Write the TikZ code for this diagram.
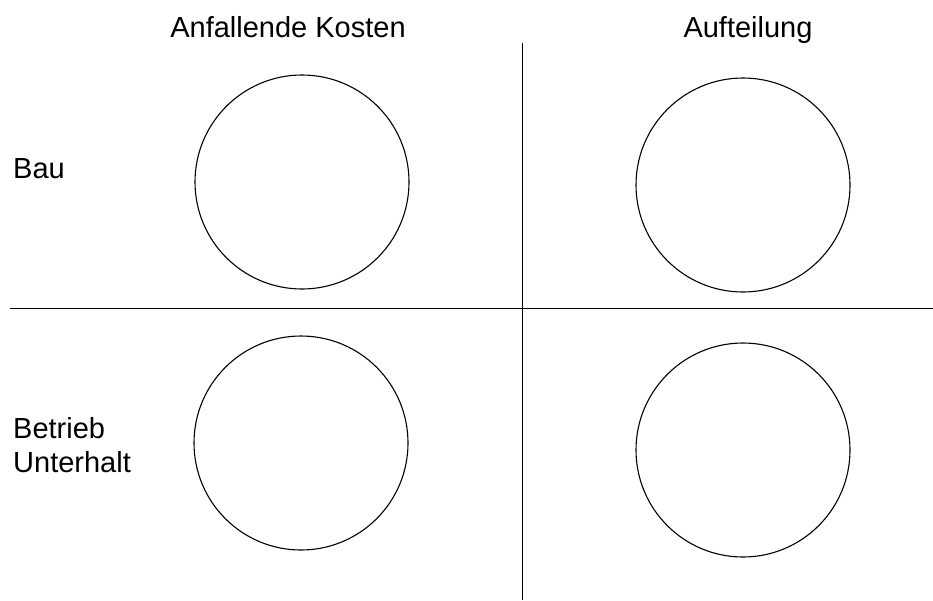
\documentclass[tikz,border=0pt]{standalone}
\usepackage{fontspec}
\setmainfont{Liberation Sans}
\usepackage{tikz}
\usetikzlibrary{positioning}

\begin{document}
\begin{tikzpicture}[
            x=1pt, y=-1pt,
            head/.style={inner sep=0pt, anchor=base, font=\fontsize{29}{34}\selectfont},
            rowlabel/.style={inner sep=0pt, anchor=base west, font=\fontsize{29}{34}\selectfont},
            share/.style={circle, draw, line width=1.1pt, minimum size=214pt, inner sep=0pt},
            divider/.style={draw, line width=0.9pt}
        ]
        \useasboundingbox (0,0) rectangle (933,600);

        % Column heads
        \node [head] (kosten) at (288,37) {Anfallende Kosten};
        \node [head] (aufteilung) at (748,37) {Aufteilung};

        % Row labels
        \node [rowlabel] (bau) at (13,178) {Bau};
        \node [rowlabel] (betrieb) at (13,438) {Betrieb};
        \node [rowlabel] (unterhalt) at (13,472) {Unterhalt};

        % Circles
        \node [share] (baukosten) at (302,182) {};
        \node [share] (bauteil) at (743,185) {};
        \node [share] (betriebkosten) at (301,443) {};
        \node [share] (betriebteil) at (743,450) {};

        % Dividers
        \coordinate (vtop) at (522,43);
        \coordinate (vbot) at (522,600);
        \coordinate (hleft) at (10,308);
        \coordinate (hright) at (933,308);
        \path [divider] (vtop) -- (vbot);
        \path [divider] (hleft) -- (hright);

    \end{tikzpicture}
\end{document}
